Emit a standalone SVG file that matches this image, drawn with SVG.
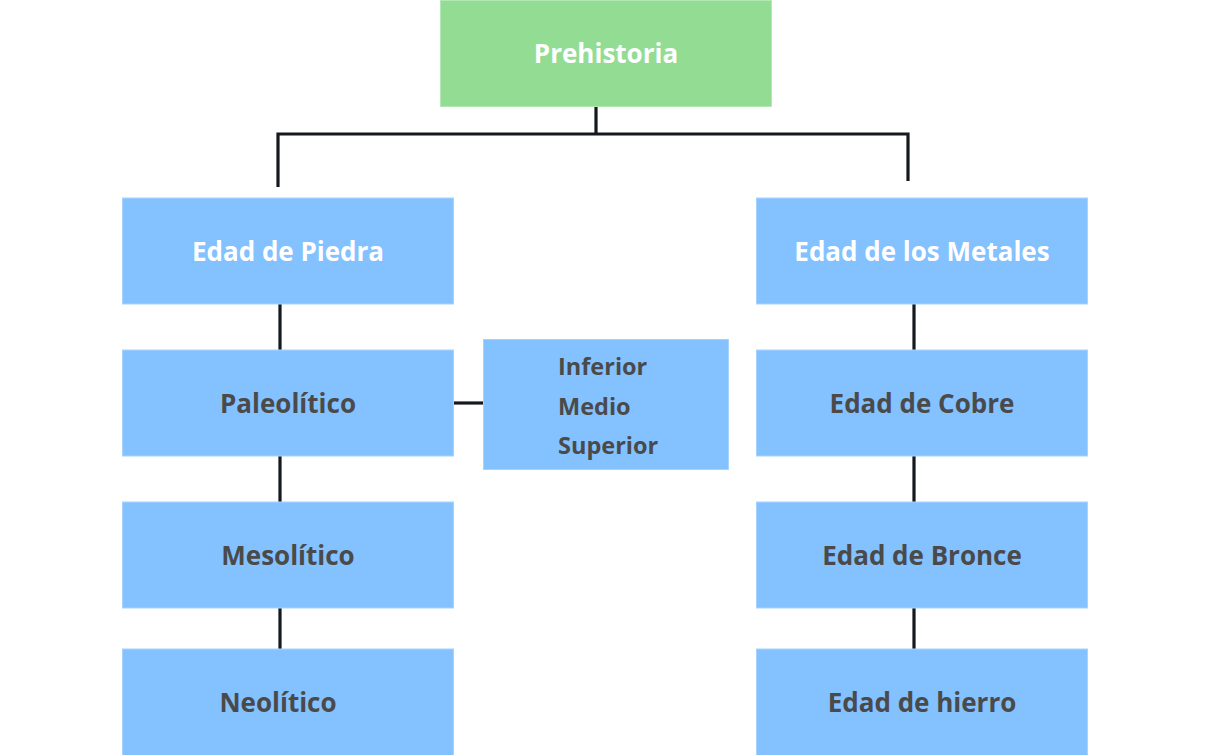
<svg xmlns="http://www.w3.org/2000/svg" width="1210" height="755" viewBox="0 0 1210 755">
<style>
.box{fill:#84c1ff;stroke:#a9d3ff;stroke-width:1}
.top{fill:#93dc94;stroke:#b3e8b4;stroke-width:1}
text{font-family:"Open Sans","Noto Sans","Liberation Sans",sans-serif;font-weight:700;font-size:26px}
.w{fill:#ffffff;text-anchor:middle}
.d{fill:#4a4a4a;text-anchor:middle}
.l{fill:#4a4a4a;font-size:23.5px}
.c{fill:none;stroke:#15191f;stroke-width:3.2}
</style>
<rect width="1210" height="755" fill="#ffffff"/>
<g id="connectors">
<path class="c" d="M596 106V134M278 187V134H908V181"/>
<path class="c" d="M280 304V350M280 456V502M280 608V649"/>
<path class="c" d="M914 304V350M914 456V502M914 608V649"/>
<path class="c" d="M453 403H483"/>
</g>
<g id="prehistoria"><rect class="top" x="440.5" y="0.5" width="331" height="106"/><text class="w" x="606" y="63">Prehistoria</text></g>
<g id="piedra"><rect class="box" x="122.5" y="198" width="331" height="106"/><text class="w" x="288" y="261">Edad de Piedra</text></g>
<g id="metales"><rect class="box" x="756.5" y="198" width="331" height="106"/><text class="w" x="922" y="261">Edad de los Metales</text></g>
<g id="paleolitico"><rect class="box" x="122.5" y="350" width="331" height="106"/><text class="d" x="288" y="413">Paleolítico</text></g>
<g id="mesolitico"><rect class="box" x="122.5" y="502" width="331" height="106"/><text class="d" x="288" y="565">Mesolítico</text></g>
<g id="neolitico"><rect class="box" x="122.5" y="649" width="331" height="107"/><text class="d" x="278" y="712">Neolítico</text></g>
<g id="cobre"><rect class="box" x="756.5" y="350" width="331" height="106"/><text class="d" x="922" y="413">Edad de Cobre</text></g>
<g id="bronce"><rect class="box" x="756.5" y="502" width="331" height="106"/><text class="d" x="922" y="565">Edad de Bronce</text></g>
<g id="hierro"><rect class="box" x="756.5" y="649" width="331" height="107"/><text class="d" x="922" y="712">Edad de hierro</text></g>
<g id="subdivisiones"><rect class="box" x="483.5" y="339.5" width="245" height="130"/>
<text class="l" x="558" y="375">Inferior</text>
<text class="l" x="558" y="414.5">Medio</text>
<text class="l" x="558" y="454">Superior</text></g>
</svg>
